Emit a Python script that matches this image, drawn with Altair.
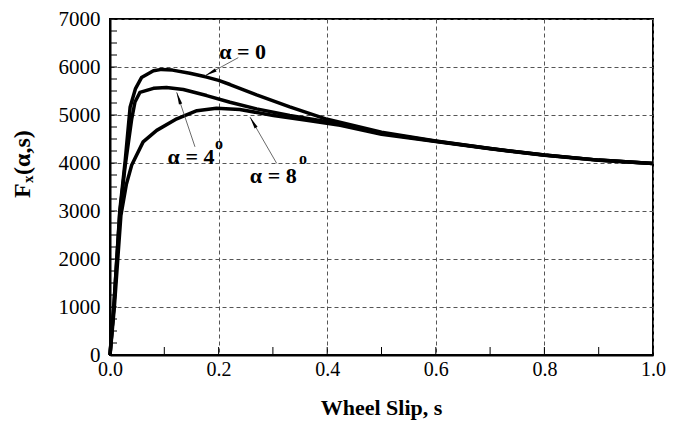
import math
import altair as alt
import pandas as pd

# ---- data ----
slip_a0 = [0, 0.007, 0.018, 0.028, 0.037, 0.047, 0.058, 0.08, 0.095, 0.115, 0.147, 0.178, 0.2, 0.221, 0.27, 0.331, 0.4, 0.5, 0.6, 0.7, 0.8, 0.9, 1.0]
force_a0 = [0, 1000, 3000, 4050, 5160, 5550, 5780, 5920, 5950, 5935, 5870, 5790, 5720, 5635, 5420, 5170, 4910, 4640, 4460, 4300, 4165, 4060, 3990]

slip_a4 = [0, 0.007, 0.018, 0.028, 0.04, 0.046, 0.055, 0.08, 0.104, 0.135, 0.178, 0.221, 0.27, 0.331, 0.4, 0.5, 0.6, 0.7, 0.8, 0.9, 1.0]
force_a4 = [0, 1000, 2950, 3950, 4920, 5270, 5470, 5555, 5575, 5530, 5405, 5266, 5128, 4990, 4860, 4620, 4455, 4300, 4165, 4060, 3990]

slip_a8 = [0, 0.008, 0.02, 0.03, 0.04, 0.061, 0.086, 0.123, 0.16, 0.196, 0.239, 0.301, 0.362, 0.424, 0.5, 0.6, 0.7, 0.8, 0.9, 1.0]
force_a8 = [0, 1000, 2900, 3550, 3960, 4440, 4680, 4920, 5090, 5140, 5115, 4990, 4890, 4784, 4600, 4445, 4295, 4160, 4058, 3990]

x_ticks = [0.0, 0.2, 0.4, 0.6, 0.8, 1.0]
y_ticks = [0, 1000, 2000, 3000, 4000, 5000, 6000, 7000]
x_minor = [i / 10 for i in range(0, 11)]
y_minor = list(range(0, 7001, 250))

# annotations
label_text = ["α = 0", "α = 4", "α = 8"]
label_s = [0.2444, 0.1492, 0.3007]
label_f = [6319, 4130, 3734]
sup_s = [0.2007, 0.3555]
sup_f = [4400, 4090]
arrow_s0 = [0.2363, 0.1565, 0.307]
arrow_f0 = [6195, 4337, 3992]
arrow_s1 = [0.175, 0.1228, 0.2578]
arrow_f1 = [5817, 5472, 4956]

W, H = 543, 336
XMAX, YMAX = 1.0, 7000
FONT = "Liberation Serif"

rows = []
for name, ss, ff in [("0", slip_a0, force_a0), ("4", slip_a4, force_a4), ("8", slip_a8, force_a8)]:
    for s, f in zip(ss, ff):
        rows.append({"alpha": name, "s": s, "F": f})
curves = pd.DataFrame(rows)

xs = alt.Scale(domain=[0, XMAX], nice=False, zero=False)
ys = alt.Scale(domain=[0, YMAX], nice=False, zero=False)

xaxis = alt.Axis(
    values=x_ticks, format=".1f", grid=True, gridDash=[4, 3], gridColor="#555", gridWidth=1,
    ticks=False, labelFont=FONT, labelFontSize=20, labelColor="black", labelPadding=4,
    domainColor="black", domainWidth=2, title=None, labelFlush=False)
yaxis = alt.Axis(
    values=y_ticks, format="d", grid=True, gridDash=[4, 3], gridColor="#555", gridWidth=1,
    ticks=False, labelFont=FONT, labelFontSize=21, labelColor="black", labelPadding=10,
    domainColor="black", domainWidth=2, title=None)

lines = alt.Chart(curves).mark_line(color="black", strokeWidth=3.5, strokeJoin="round").encode(
    x=alt.X("s:Q", scale=xs, axis=xaxis),
    y=alt.Y("F:Q", scale=ys, axis=yaxis),
    detail="alpha:N",
)

ymin_df = pd.DataFrame({"v": y_minor})
ymin = alt.Chart(ymin_df).mark_rule(color="black", strokeWidth=1).encode(
    y=alt.Y("v:Q", scale=ys, axis=yaxis), x=alt.value(0), x2=alt.value(7))

xmin_df = pd.DataFrame({"v": x_minor})
xmin = alt.Chart(xmin_df).mark_rule(color="black", strokeWidth=1).encode(
    x=alt.X("v:Q", scale=xs, axis=xaxis), y=alt.value(H), y2=alt.value(H - 8))

# arrows
ang = []
for a, b, c, d in zip(arrow_s0, arrow_f0, arrow_s1, arrow_f1):
    dx = (c - a) * W / XMAX
    dy = -(d - b) * H / YMAX
    ang.append(math.degrees(math.atan2(dx, -dy)) % 360)
arr_df = pd.DataFrame({"s0": arrow_s0, "f0": arrow_f0, "s1": arrow_s1, "f1": arrow_f1, "ang": ang})
arrow_lines = alt.Chart(arr_df).mark_rule(color="#444", strokeWidth=0.8).encode(
    x=alt.X("s0:Q", scale=xs, axis=xaxis), y=alt.Y("f0:Q", scale=ys, axis=yaxis),
    x2="s1:Q", y2="f1:Q")
arrow_heads = alt.Chart(arr_df).mark_point(
    shape="M0,0L0.28,2L-0.28,2Z", filled=True, color="black", opacity=1, size=150, strokeWidth=0
).encode(
    x=alt.X("s1:Q", scale=xs, axis=xaxis), y=alt.Y("f1:Q", scale=ys, axis=yaxis),
    angle=alt.Angle("ang:Q", scale=None))

lab_df = pd.DataFrame({"s": label_s, "F": label_f, "t": label_text})
labels = alt.Chart(lab_df).mark_text(font=FONT, fontSize=22, fontWeight="bold", align="center",
                                     baseline="middle", color="black").encode(
    x=alt.X("s:Q", scale=xs, axis=xaxis), y=alt.Y("F:Q", scale=ys, axis=yaxis), text="t:N")
sup_df = pd.DataFrame({"s": sup_s, "F": sup_f, "t": ["o", "o"]})
sups = alt.Chart(sup_df).mark_text(font=FONT, fontSize=16, fontWeight="bold", align="center",
                                   baseline="middle", color="black").encode(
    x=alt.X("s:Q", scale=xs, axis=xaxis), y=alt.Y("F:Q", scale=ys, axis=yaxis), text="t:N")

# axis titles
ytitle_parts = pd.DataFrame({"t": ["F", "x", "(α,s)"], "px": [-87, -82, -87], "py": [179, 164, 156]})
ytitle_a = alt.Chart(ytitle_parts.iloc[[0, 2]]).mark_text(
    font=FONT, fontSize=24, fontWeight="bold", angle=270, align="left", baseline="middle", color="black"
).encode(x=alt.X("px:Q", scale=None), y=alt.Y("py:Q", scale=None), text="t:N")
ytitle_b = alt.Chart(ytitle_parts.iloc[[1]]).mark_text(
    font=FONT, fontSize=15, fontWeight="bold", angle=270, align="left", baseline="middle", color="black"
).encode(x=alt.X("px:Q", scale=None), y=alt.Y("py:Q", scale=None), text="t:N")

xtitle = alt.Chart(pd.DataFrame({"t": ["Wheel Slip, s"]})).mark_text(
    font=FONT, fontSize=22, fontWeight="bold", align="center", baseline="alphabetic", color="black"
).encode(x=alt.value(W / 2), y=alt.value(H + 60), text="t:N")

chart = alt.layer(lines, ymin, xmin, arrow_lines, arrow_heads, labels, sups, ytitle_a, ytitle_b, xtitle).properties(
    width=W, height=H,
    autosize=alt.AutoSizeParams(type="none"),
    padding={"left": 102, "top": 11, "right": 21, "bottom": 65},
    background="white",
).configure_view(stroke="black", strokeWidth=2)

chart.save("out.html", embed_options={"renderer": "svg", "actions": False})
